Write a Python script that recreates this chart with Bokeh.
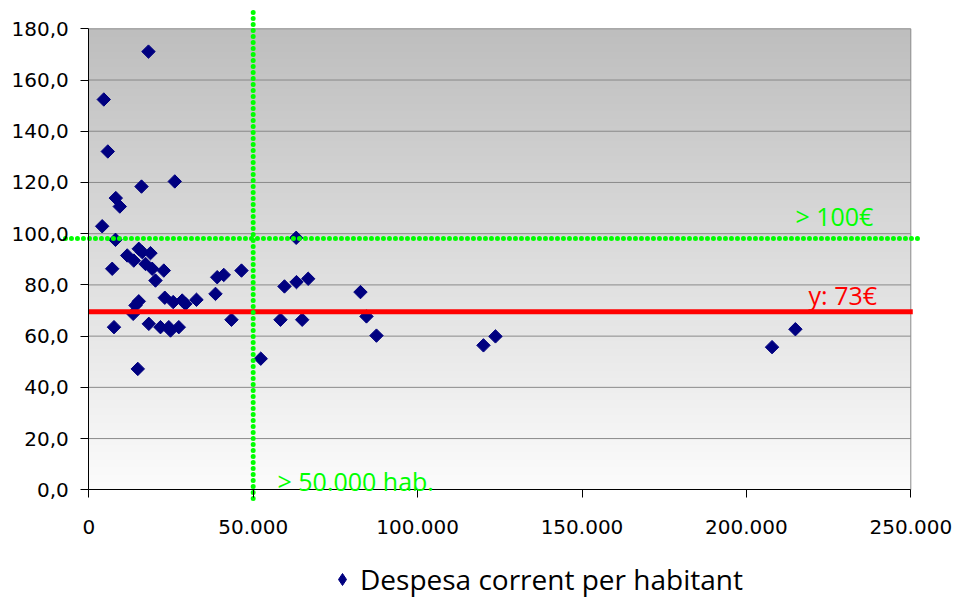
import numpy as np
from bokeh.plotting import figure
from bokeh.models import Range1d, FixedTicker, Label, Legend, LegendItem
from bokeh.embed import file_html
from bokeh.resources import INLINE

# ---- data ----
population = [18150, 4560, 5780, 26150, 16030, 8210, 9430, 4070, 8120, 63070,
              7120, 7660, 11680, 13680, 15200, 16240, 18760, 17240, 19280, 22810,
              20280, 39050, 41050, 46440, 38530, 23110, 25670, 28400, 29410, 32750,
              15200, 14200, 13500, 18250, 21800, 24330, 24850, 27370, 43390, 14900,
              52300, 59510, 63160, 66720, 58300, 64900, 82620, 84450, 87490, 120030,
              123680, 207800, 214900]
spend = [171.1, 152.4, 132.1, 120.4, 118.4, 113.9, 110.6, 102.9, 97.6, 98.4,
         86.3, 63.5, 91.5, 89.5, 94.1, 92.8, 92.4, 88.2, 86.3, 85.6,
         81.7, 83.0, 83.9, 85.6, 76.5, 75.0, 73.3, 73.9, 72.6, 74.2,
         73.6, 72.0, 68.7, 64.8, 63.5, 63.5, 62.2, 63.5, 66.4, 47.2,
         51.2, 79.4, 81.1, 82.4, 66.4, 66.4, 77.2, 67.7, 60.2, 56.4,
         59.9, 55.7, 62.7]
series_name = "Despesa corrent per habitant"

x_ticks = [0, 50000, 100000, 150000, 200000, 250000]
x_tick_labels = ["0", "50.000", "100.000", "150.000", "200.000", "250.000"]
y_ticks = [0, 20, 40, 60, 80, 100, 120, 140, 160, 180]
y_tick_labels = ["0,0", "20,0", "40,0", "60,0", "80,0", "100,0", "120,0", "140,0", "160,0", "180,0"]

pop_threshold = 50000
spend_threshold = 98.1
spend_mean = 69.5
label_pop = "> 50.000 hab."
label_spend = "> 100€"
label_mean = "y: 73€"

X_MAX, Y_MAX = 250000, 180

# ---- layout (pixels) ----
W, H = 952, 597
FRAME_L, FRAME_R, FRAME_T, FRAME_B = 2, W, 8, H   # frame edges on the page
AX_X0, AX_X1 = 88.3, 910.3     # pixel of x=0 and x=X_MAX
AX_Y0, AX_Y1 = 489.3, 28.3     # pixel of y=0 and y=Y_MAX
sx = (AX_X1 - AX_X0) / X_MAX
sy = (AX_Y0 - AX_Y1) / Y_MAX
x_range = Range1d(-(AX_X0 - FRAME_L) / sx, X_MAX + (FRAME_R - AX_X1) / sx)
y_range = Range1d(-(FRAME_B - AX_Y0) / sy, Y_MAX + (AX_Y1 - FRAME_T) / sy)

NOTE_FONT = "Open Sans"
AXIS_FONT = "DejaVu Sans"
GREEN = "#00FF00"
NAVY = "#000080"

p = figure(width=W, height=H, x_range=x_range, y_range=y_range,
           output_backend="svg", toolbar_location=None,
           min_border_left=FRAME_L, min_border_right=W - FRAME_R,
           min_border_top=FRAME_T, min_border_bottom=H - FRAME_B)
p.border_fill_color = "white"
p.background_fill_color = "white"
p.outline_line_color = None

# gradient background of the plot area
n = 461
shades = np.linspace(252, 190, n).astype(np.uint32)
rgba = (np.uint32(255) << 24) | (shades << 16) | (shades << 8) | shades
p.image_rgba(image=[rgba.reshape(n, 1).astype(np.uint32)], x=0, y=0, dw=X_MAX, dh=Y_MAX)

# gridlines and plot-area border
grid_y = y_ticks[1:]
p.segment(x0=[0] * len(grid_y), x1=[X_MAX] * len(grid_y), y0=grid_y, y1=grid_y,
          line_color="#8a8a8a", line_width=1)
p.segment(x0=[X_MAX], x1=[X_MAX], y0=[0], y1=[Y_MAX], line_color="#8a8a8a", line_width=1)

# axes at fixed positions
p.xaxis.fixed_location = 0
p.yaxis.fixed_location = 0
p.xaxis.bounds = (0, X_MAX)
p.yaxis.bounds = (0, Y_MAX)
p.xaxis.ticker = FixedTicker(ticks=x_ticks)
p.xaxis.major_label_overrides = dict(zip(x_ticks, x_tick_labels))
p.yaxis.ticker = FixedTicker(ticks=y_ticks)
p.yaxis.major_label_overrides = dict(zip(y_ticks, y_tick_labels))
for ax in (p.xaxis[0], p.yaxis[0]):
    ax.axis_line_color = "black"
    ax.major_tick_line_color = "black"
    ax.minor_tick_line_color = None
    ax.major_tick_in = 0
    ax.major_tick_out = 8
    ax.major_label_text_color = "black"
    ax.major_label_text_font = AXIS_FONT
    ax.major_label_text_font_size = "20px"
p.yaxis.major_label_standoff = 12
p.xaxis.major_label_standoff = 22
p.xgrid.visible = False
p.ygrid.visible = False

r = p.scatter(population, spend, marker="square", angle=np.pi / 4, size=9.5,
              fill_color=NAVY, line_color=NAVY)
# legend swatch: a diamond marker renderer with a single undefined (not drawn) point
r_key = p.scatter(x=[np.nan], y=[np.nan], marker="diamond", size=13,
                  fill_color=NAVY, line_color=NAVY)

# mean line
p.segment(x0=[0], x1=[X_MAX + 600], y0=[spend_mean], y1=[spend_mean],
          line_color="#FF0000", line_width=5)

# dotted thresholds (extend a little beyond the plot area)
p.segment(x0=[pop_threshold], x1=[pop_threshold], y0=[186.4], y1=[-4.2],
          line_color=GREEN, line_width=5, line_dash="0 6", line_cap="round")
p.segment(x0=[-7100], x1=[253500], y0=[spend_threshold], y1=[spend_threshold],
          line_color=GREEN, line_width=5, line_dash="0 6", line_cap="round")

p.add_layout(Label(x=214900, y=107.1, text=label_spend, text_color=GREEN,
                   text_font=NOTE_FONT, text_font_size="25px", text_baseline="middle"))
p.add_layout(Label(x=218900, y=75.9, text=label_mean, text_color="#FF0000",
                   text_font=NOTE_FONT, text_font_size="25px", text_baseline="middle"))
p.add_layout(Label(x=57400, y=3.4, text=label_pop, text_color=GREEN,
                   text_font=NOTE_FONT, text_font_size="25px", text_baseline="middle"))

legend = Legend(items=[LegendItem(label=series_name, renderers=[r_key])],
                location=(327 - FRAME_L, -1), border_line_color=None, background_fill_alpha=0,
                label_text_font=NOTE_FONT, label_text_font_size="28px", label_text_color="black",
                glyph_width=30, glyph_height=30, padding=0, margin=0, label_standoff=3)
p.add_layout(legend, "center")

open("out.html", "w").write(file_html(p, INLINE))
